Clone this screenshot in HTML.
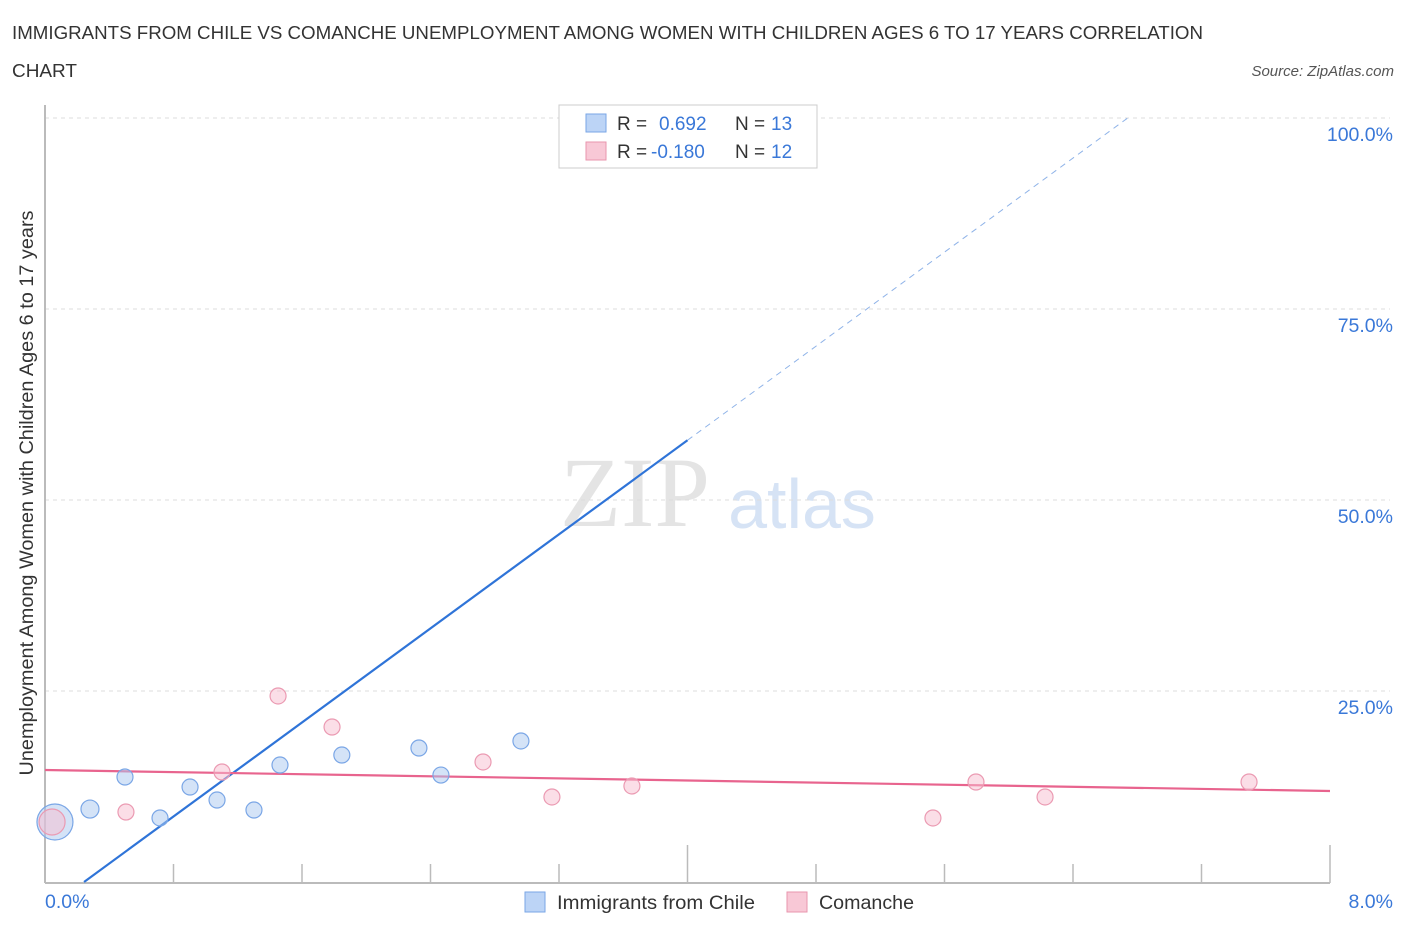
<!DOCTYPE html>
<html><head><meta charset="utf-8"><style>
body{margin:0;background:#fff;font-family:"Liberation Sans",sans-serif}
svg text{font-family:"Liberation Sans",sans-serif}
</style></head><body>
<svg width="1406" height="930" xmlns="http://www.w3.org/2000/svg">
<text x="12" y="39" font-size="18.5" fill="#333" textLength="1191" lengthAdjust="spacingAndGlyphs">IMMIGRANTS FROM CHILE VS COMANCHE UNEMPLOYMENT AMONG WOMEN WITH CHILDREN AGES 6 TO 17 YEARS CORRELATION</text>
<text x="12" y="77" font-size="18.5" fill="#333" textLength="65" lengthAdjust="spacingAndGlyphs">CHART</text>
<text x="1394" y="76" font-size="15" fill="#555" font-style="italic" text-anchor="end">Source: ZipAtlas.com</text>
<text x="635" y="526" font-size="100" fill="#e4e4e4" style="font-family:'Liberation Serif',serif" text-anchor="middle">ZIP</text>
<text x="802" y="528" font-size="70" fill="#d6e3f5" text-anchor="middle">atlas</text>
<g id="grid"></g>
<g id="axes"></g>
<g id="lines"></g>
<g id="pts"></g>
<text transform="translate(33,493) rotate(-90)" font-size="19.5" fill="#333" text-anchor="middle" textLength="565" lengthAdjust="spacingAndGlyphs">Unemployment Among Women with Children Ages 6 to 17 years</text>
<g>
<rect x="559" y="105" width="258" height="63" fill="#fff" stroke="#ccc"/>
<rect x="586" y="114" width="20" height="18" fill="#bcd4f6" stroke="#7aa6e6"/>
<text x="617" y="130" font-size="19" fill="#333">R = </text><text x="659" y="130" font-size="19" fill="#3a78d8">0.692</text>
<text x="735" y="130" font-size="19" fill="#333">N = </text><text x="771" y="130" font-size="19" fill="#3a78d8">13</text>
<rect x="586" y="142" width="20" height="18" fill="#f8c8d6" stroke="#e896ae"/>
<text x="617" y="158" font-size="19" fill="#333">R = </text><text x="651" y="158" font-size="19" fill="#3a78d8">-0.180</text>
<text x="735" y="158" font-size="19" fill="#333">N = </text><text x="771" y="158" font-size="19" fill="#3a78d8">12</text>
</g>
<g>
<rect x="525" y="892" width="20" height="20" fill="#bcd4f6" stroke="#7aa6e6"/>
<text x="557" y="909" font-size="19" fill="#333" textLength="198" lengthAdjust="spacingAndGlyphs">Immigrants from Chile</text>
<rect x="787" y="892" width="20" height="20" fill="#f8c8d6" stroke="#e896ae"/>
<text x="819" y="909" font-size="19" fill="#333" textLength="95" lengthAdjust="spacingAndGlyphs">Comanche</text>
</g>
</svg>
<script>
const blueX=[0.062,0.280,0.498,0.716,0.903,1.071,1.301,1.463,1.848,2.328,2.465,2.963,3.729];
const blueY=[7.85,9.55,13.74,8.38,12.43,10.73,9.42,15.31,16.62,17.54,14.0,18.46,100.1];
const blueR=[18,9,8,8,8,8,8,8,8,8,8,8,8];
const pinkX=[0.044,0.504,1.102,1.451,1.787,2.727,3.156,3.654,5.528,5.796,6.226,7.496];
const pinkY=[7.85,9.16,14.4,24.35,20.29,15.71,11.13,12.57,8.38,13.09,11.13,13.09];
const pinkR=[13,8,8,8,8,8,8,8,8,8,8,8];
const blueTrend=[15.39,-3.74];
const pinkTrend=[14.66,11.91];
const yTicks=[25,50,75,100];
const yTickLabels=["25.0%","50.0%","75.0%","100.0%"];
const xLabels=[[0,"0.0%"],[8,"8.0%"]];
const NS="http://www.w3.org/2000/svg";
const sx=v=>45+v/8*1285, sy=v=>882-v*7.64;
function mk(p,t,a){const e=document.createElementNS(NS,t);for(const k in a)e.setAttribute(k,a[k]);p.appendChild(e);return e;}
const grid=document.getElementById('grid'),axes=document.getElementById('axes'),lines=document.getElementById('lines'),pts=document.getElementById('pts');
yTicks.forEach((t,i)=>{
 const l=mk(grid,'line',{x1:45,x2:1390,y1:sy(t),y2:sy(t),stroke:'#ddd','stroke-dasharray':'4,4'});
 
 
 const tx=mk(axes,'text',{x:1393,y:sy(t)+23,'font-size':19.5,fill:'#3a78d8','text-anchor':'end'});
 tx.textContent=yTickLabels[i];
 
 
});
const ax=mk(axes,'line',{x1:45,x2:1330,y1:883,y2:883,stroke:'#bbb','stroke-width':2});


const ay=mk(axes,'line',{x1:45,x2:45,y1:105,y2:883,stroke:'#bbb','stroke-width':2});


for(let i=0;i<=10;i++){
 const v=i*0.8,maj=(i===0||i===5||i===10);
 const t=mk(axes,'line',{x1:sx(v),x2:sx(v),y1:maj?845:864,y2:883,stroke:'#bbb','stroke-width':1.5});
 
 
}
xLabels.forEach(([v,s])=>{
 const t=mk(axes,'text',{x:v===0?sx(v):sx(v)+63,y:908,'font-size':19.5,fill:'#3a78d8','text-anchor':v===0?'start':'end'});
 t.textContent=s;
 
 
});
const bx0=-blueTrend[1]/blueTrend[0], bxEnd=(100-blueTrend[1])/blueTrend[0];
const bl=mk(lines,'line',{x1:sx(bx0),y1:sy(0),x2:sx(4.0),y2:sy(blueTrend[0]*4.0+blueTrend[1]),stroke:'#2f74d8','stroke-width':2.2});


const bd=mk(lines,'line',{x1:sx(4.0),y1:sy(blueTrend[0]*4.0+blueTrend[1]),x2:sx(bxEnd),y2:sy(100),stroke:'#8fb3e8','stroke-width':1,'stroke-dasharray':'6,5'});


const pl=mk(lines,'line',{x1:sx(0),y1:sy(pinkTrend[0]),x2:sx(8),y2:sy(pinkTrend[1]),stroke:'#e8648e','stroke-width':2.2});


blueX.forEach((x,i)=>{
 const c=mk(pts,'circle',{cx:sx(x),cy:sy(blueY[i]),r:blueR[i],fill:'rgba(170,200,240,0.5)',stroke:'#7aa6e6','stroke-width':1.2});
 
 
});
pinkX.forEach((x,i)=>{
 const c=mk(pts,'circle',{cx:sx(x),cy:sy(pinkY[i]),r:pinkR[i],fill:'rgba(248,190,208,0.5)',stroke:'#eb9ab2','stroke-width':1.2});
 
 
});
</script>
</body></html>
